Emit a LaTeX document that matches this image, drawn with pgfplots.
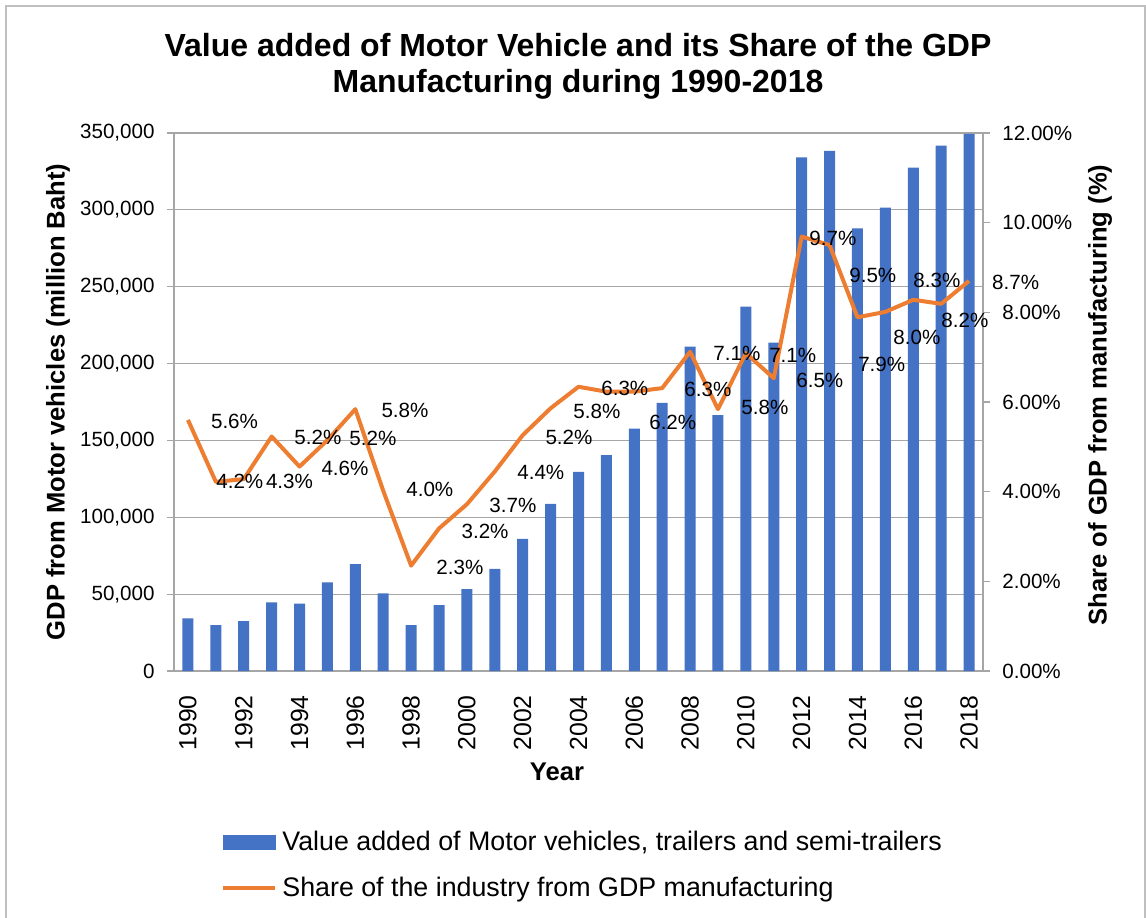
\documentclass[border=0pt]{standalone}
\usepackage{fontspec}
\setmainfont{Liberation Sans}
\usepackage{pgfplots}
\usepackage{pgfplotstable}
\pgfplotsset{compat=1.18}
\definecolor{barblue}{HTML}{4472C4}
\definecolor{lineorange}{HTML}{ED7D31}
\definecolor{axisgray}{HTML}{A6A6A6}
\definecolor{framegray}{HTML}{BFBFBF}

\pgfplotstableread{
x val
0 34300
1 29900
2 32500
3 44700
4 43800
5 57700
6 69600
7 50500
8 29900
9 42900
10 53300
11 66400
12 85900
13 108800
14 129500
15 140500
16 157600
17 174500
18 211000
19 166400
20 237000
21 213600
22 334200
23 338300
24 288000
25 301400
26 327500
27 341800
28 349500
}\bardata

\pgfplotstableread{
x pct
0 5.60
1 4.22
2 4.28
3 5.23
4 4.56
5 5.15
6 5.84
7 4.02
8 2.35
9 3.18
10 3.72
11 4.45
12 5.26
13 5.86
14 6.34
15 6.23
16 6.23
17 6.31
18 7.12
19 5.84
20 7.09
21 6.53
22 9.69
23 9.50
24 7.89
25 8.01
26 8.28
27 8.19
28 8.70
}\sharedata

\pgfplotstableread{
x y lab
1.67 5.57 5.6
1.86 4.23 4.2
3.64 4.24 4.3
4.66 5.20 5.2
5.63 4.53 4.6
6.63 5.18 5.2
7.78 5.82 5.8
8.67 4.04 4.0
9.75 2.30 2.3
10.65 3.12 3.2
11.65 3.70 3.7
12.65 4.42 4.4
13.66 5.22 5.2
14.66 5.78 5.8
15.66 6.31 6.3
17.38 5.55 6.2
18.64 6.27 6.3
19.68 7.09 7.1
20.68 5.87 5.8
21.68 7.05 7.1
22.65 6.49 6.5
23.12 9.66 9.7
24.55 8.83 9.5
24.87 6.83 7.9
26.13 7.45 8.0
26.85 8.72 8.3
27.85 7.83 8.2
29.67 8.66 8.7
}\labeldata

\begin{document}
\begin{tikzpicture}
\useasboundingbox (-87pt,-123pt) rectangle (486pt,335.5pt);
\draw[framegray, line width=0.6pt] (-84pt,-140pt) rectangle (485.5pt,332.5pt);

\node[anchor=base, font=\fontsize{16}{18}\selectfont\bfseries] at (202pt,307pt) {Value added of Motor Vehicle and its Share of the GDP};
\node[anchor=base, font=\fontsize{16}{18}\selectfont\bfseries] at (202pt,289pt) {Manufacturing during 1990-2018};

\begin{axis}[
  at={(0,0)}, anchor=south west,
  scale only axis, width=404.5pt, height=269pt,
  xmin=-0.5, xmax=28.5, ymin=0, ymax=350000,
  axis x line*=bottom, axis y line*=left,
  axis line style={draw=axisgray, line width=0.6pt},
  ymajorgrids, grid style={draw=axisgray, line width=0.6pt},
  ytick={0,50000,100000,150000,200000,250000,300000,350000},
  yticklabels={0,{50,000},{100,000},{150,000},{200,000},{250,000},{300,000},{350,000}},
  scaled y ticks=false,
  yticklabel style={font=\fontsize{10.3}{12}\selectfont, anchor=east, inner sep=0pt, xshift=-6pt},
  tick align=outside, major tick length=3.5pt,
  ytick style={draw=axisgray, line width=0.6pt},
  xtick={0,2,...,28},
  xticklabels={1990,1992,1994,1996,1998,2000,2002,2004,2006,2008,2010,2012,2014,2016,2018},
  xtick style={draw=none},
  xticklabel style={font=\fontsize{12.4}{14}\selectfont, yshift=-8.5pt, rotate=90, anchor=east, inner sep=0pt},
  xlabel={Year},
  xlabel style={font=\fontsize{12.8}{15}\selectfont\bfseries, at={(axis description cs:0.4734,-0.1877)}, anchor=center},
  ylabel={GDP from Motor vehicles (million Baht)},
  ylabel style={font=\fontsize{12.8}{15}\selectfont\bfseries, at={(axis description cs:-0.1434,0.5)}, anchor=center},
]
\addplot[ybar, bar width=5.5pt, fill=barblue, draw=none] table[x=x, y=val] {\bardata};
\end{axis}

\begin{axis}[
  at={(0,0)}, anchor=south west,
  scale only axis, width=404.5pt, height=269pt,
  xmin=-0.5, xmax=28.5, ymin=0, ymax=12,
  axis x line=none, axis y line*=right,
  axis line style={draw=axisgray, line width=0.6pt},
  ytick={0,2,4,6,8,10,12},
  yticklabels={0.00\%,2.00\%,4.00\%,6.00\%,8.00\%,10.00\%,12.00\%},
  yticklabel style={font=\fontsize{10.3}{12}\selectfont, anchor=west, inner sep=0pt, xshift=6pt},
  tick align=outside, major tick length=3.5pt,
  ytick style={draw=axisgray, line width=0.6pt},
  ylabel={Share of GDP from manufacturing (\%)},
  ylabel style={font=\fontsize{12.8}{15}\selectfont\bfseries, at={(axis description cs:1.1446,0.513)}, anchor=center},
  clip=false,
  legend style={at={(axis description cs:0.0581,-0.297)}, anchor=north west, draw=none, fill=none, inner sep=0pt,
    font=\fontsize{13.4}{16}\selectfont, row sep=11.5pt,
    nodes={inner sep=0pt},
    /tikz/every odd column/.append style={column sep=2.5pt}},
  legend cell align=left,
]
\addlegendimage{legend image code/.code={\fill[barblue] (0pt,-3.5pt) rectangle (26pt,3.5pt);}}
\addlegendentry{Value added of Motor vehicles, trailers and semi-trailers}
\addplot[lineorange, line width=2pt, line join=round, mark=none,
  legend image code/.code={\draw[lineorange, line width=2pt] (0pt,0pt) -- (26pt,0pt);}]
  table[x=x, y=pct] {\sharedata};
\addlegendentry{Share of the industry from GDP manufacturing}
\addplot[draw=none, mark=none, forget plot, point meta=explicit symbolic,
  nodes near coords={\pgfplotspointmeta\%},
  every node near coord/.append style={anchor=center, inner sep=0pt, font=\fontsize{10.3}{12}\selectfont, text=black}]
  table[x=x, y=y, meta=lab] {\labeldata};
\end{axis}
\end{tikzpicture}
\end{document}
